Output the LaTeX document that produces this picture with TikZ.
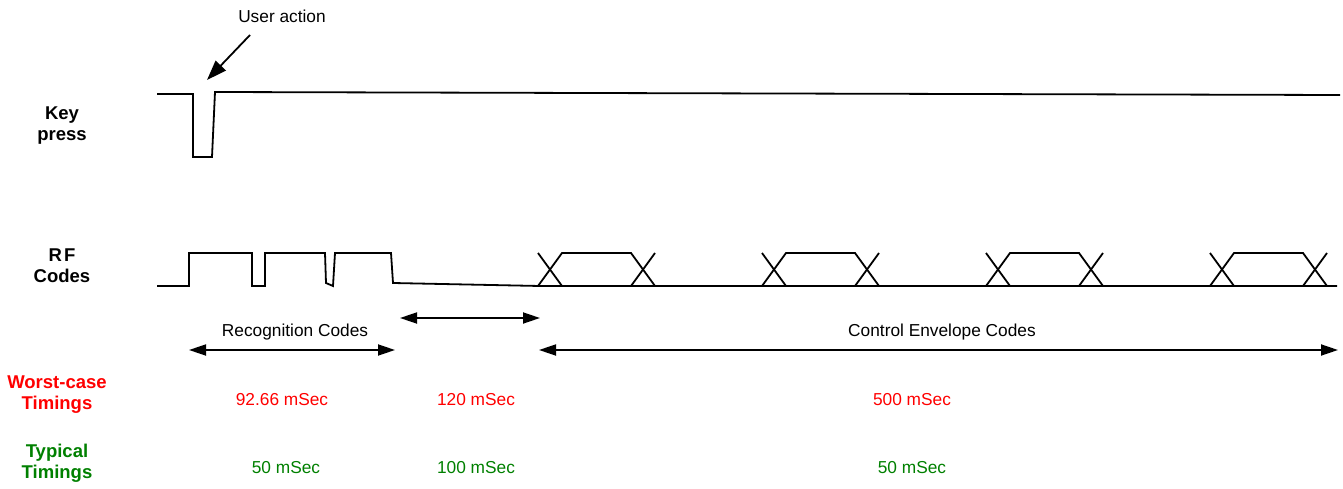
\documentclass[tikz,border=0pt]{standalone}
\usepackage{fontspec}
\setmainfont{Liberation Sans}
\usetikzlibrary{arrows.meta}
\definecolor{wred}{RGB}{255,0,0}
\definecolor{tgreen}{RGB}{0,128,0}
\begin{document}
\begin{tikzpicture}[x=1pt,y=-1pt,
  wave/.style={line width=1.8pt,line join=miter},
  dimarrow/.style={line width=1.8pt,{Triangle[length=17pt,width=11pt]}-{Triangle[length=17pt,width=11pt]}},
  txt/.style={font=\fontsize{17.3}{20}\selectfont,inner sep=0pt},
  hdr/.style={font=\fontsize{18.5}{21}\selectfont\bfseries,align=center,inner sep=0pt},
  worst/.style={txt,text=wred},
  typ/.style={txt,text=tgreen}]
\useasboundingbox (0,0) rectangle (1343,489);
% Key press waveform
\draw[wave] (157,94) -- (193,94) -- (193,157) -- (212,157) -- (215,92) -- (1340,95);
\node[txt] (ua) at (282,16) {User action};
\coordinate (uaS) at (250,35);
\coordinate (uaE) at (207,80);
\draw[line width=1.8pt,-{Triangle[length=20pt,width=14pt]}] (uaS) -- (uaE);
% RF codes waveform
\draw[wave] (157,286) -- (189,286) -- (189,253) -- (252,253) -- (252,286) -- (265,286) -- (265,253)
  -- (325,253) -- (326,283) -- (333,286) -- (335,253) -- (391,253) -- (393,283) -- (540,286) -- (1337,286);
\foreach \k in {0,1,2,3}{
  \pgfmathsetmacro{\s}{538+224*\k}
  \draw[wave] (\s,253) -- (\s+24,286);
  \draw[wave] (\s,286) -- (\s+24,253) -- (\s+93,253) -- (\s+117,286);
  \draw[wave] (\s+93,286) -- (\s+117,253);
}
% Left labels
\node[hdr] (kp) at (62,126) {Key\\press};
\node[hdr] (rf) at (62,266) {R\hspace{2pt}F\\Codes};
\node[hdr,text=wred] (wc) at (57,395) {Worst-case\\Timings};
\node[hdr,text=tgreen] (tt) at (57,463) {Typical\\Timings};
% Dimension arrows
\coordinate (r1) at (189,350); \coordinate (r2) at (395,350);
\coordinate (g1) at (400,318); \coordinate (g2) at (540,318);
\coordinate (c1) at (539,350); \coordinate (c2) at (1338,350);
\draw[dimarrow] (r1) -- (r2);
\draw[dimarrow] (g1) -- (g2);
\draw[dimarrow] (c1) -- (c2);
\node[txt] (rc) at (295,332) {Recognition Codes};
\node[txt] (ce) at (942,332) {Control Envelope Codes};
% Timings
\node[worst] (w1) at (282,400) {92.66 mSec};
\node[worst] (w2) at (476,400) {120 mSec};
\node[worst] (w3) at (912,400) {500 mSec};
\node[typ] (t1) at (286,468) {50 mSec};
\node[typ] (t2) at (476,468) {100 mSec};
\node[typ] (t3) at (912,468) {50 mSec};
\end{tikzpicture}
\end{document}
